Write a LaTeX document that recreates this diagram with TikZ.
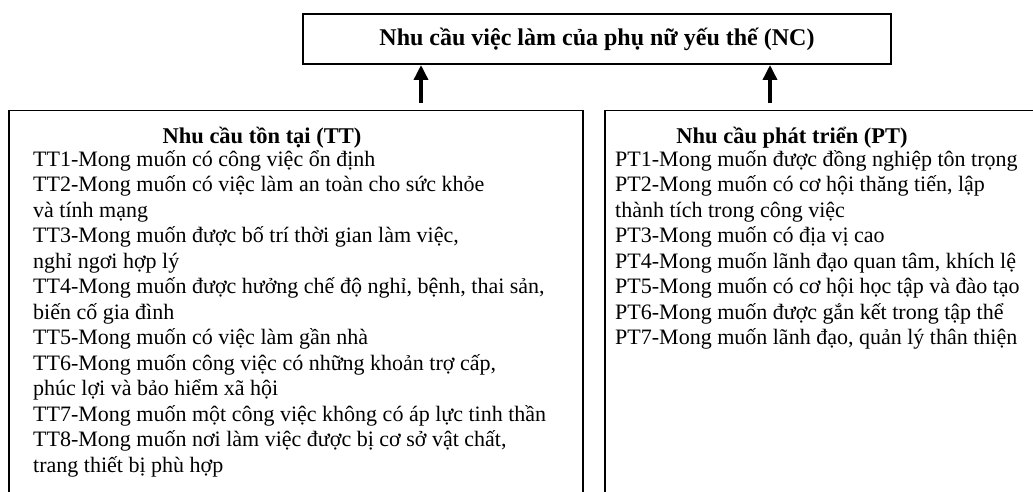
\documentclass[tikz,border=0pt]{standalone}
\usepackage{fontspec}
\setmainfont{Liberation Serif}
\usetikzlibrary{positioning,arrows.meta}
\begin{document}
\begin{tikzpicture}
            [x=1pt, y=1pt, font=\fontsize{22}{25.5}\selectfont,
            box/.style={draw=black, line width=1.5pt, inner sep=0pt, anchor=north west},
            head/.style={font=\fontsize{22.5}{25.5}\selectfont\bfseries, inner sep=0pt},
            items/.style={align=left, inner sep=0pt, anchor=north west},
            needarrow/.style={line width=3.5pt, -{Triangle[width=14pt, length=15pt]}}]
            \clip (0,0) rectangle (1033,-492);
            % top box
            \node [box, minimum width=588pt, minimum height=50pt, line width=2pt] (nc) at (302,-13) {};
            \node [head, font=\fontsize{24}{26}\selectfont\bfseries] (nctext) at (nc.center) {Nhu cầu việc làm của phụ nữ yếu thế (NC)};
            % lower boxes
            \node [box, minimum width=574pt, minimum height=420pt] (tt) at (8,-110) {};
            \node [box, minimum width=450pt, minimum height=420pt] (pt) at (604,-110) {};
            \node [head] (tthead) at (262,-138) {Nhu cầu tồn tại (TT)};
            \node [head] (pthead) at (792,-138) {Nhu cầu phát triển (PT)};
            \node [items] (ttlist) at (33,-150) {TT1-Mong muốn có công việc ổn định\\
                TT2-Mong muốn có việc làm an toàn cho sức khỏe\\
                và tính mạng\\
                TT3-Mong muốn được bố trí thời gian làm việc,\\
                nghỉ ngơi hợp lý\\
                TT4-Mong muốn được hưởng chế độ nghỉ, bệnh, thai sản,\\
                biến cố gia đình\\
                TT5-Mong muốn có việc làm gần nhà\\
                TT6-Mong muốn công việc có những khoản trợ cấp,\\
                phúc lợi và bảo hiểm xã hội\\
                TT7-Mong muốn một công việc không có áp lực tinh thần\\
                TT8-Mong muốn nơi làm việc được bị cơ sở vật chất,\\
                trang thiết bị phù hợp};
            \node [items] (ptlist) at (615,-150) {PT1-Mong muốn được đồng nghiệp tôn trọng\\
                PT2-Mong muốn có cơ hội thăng tiến, lập\\
                thành tích trong công việc\\
                PT3-Mong muốn có địa vị cao\\
                PT4-Mong muốn lãnh đạo quan tâm, khích lệ\\
                PT5-Mong muốn có cơ hội học tập và đào tạo\\
                PT6-Mong muốn được gắn kết trong tập thể\\
                PT7-Mong muốn lãnh đạo, quản lý thân thiện};
            % arrows
            \draw [needarrow] ([xshift=413pt]tt.north west) ++(0,7pt) -- ([xshift=119pt]nc.south west);
            \draw [needarrow] ([xshift=166pt]pt.north west) ++(0,7pt) -- ([xshift=468pt]nc.south west);
\end{tikzpicture}
\end{document}
